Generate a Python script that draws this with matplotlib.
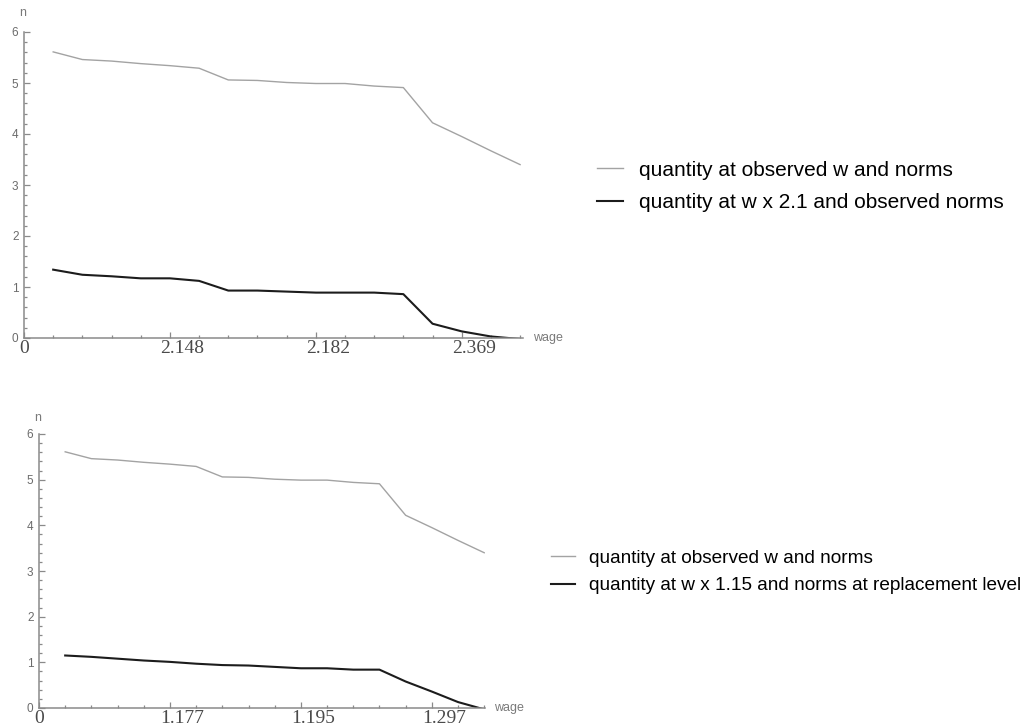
"""Quantity vs wage, two Mathematica-style panels (matplotlib / Agg)."""
import numpy as np
import matplotlib
matplotlib.use("Agg")
import matplotlib.pyplot as plt
from matplotlib.lines import Line2D
from matplotlib.transforms import ScaledTranslation

plt.rcParams.update({"font.family": ["Liberation Sans", "DejaVu Sans"]})

# data: 17 wage steps, index 1..17
idx = np.arange(1, 18)
q_observed = [5.61, 5.46, 5.43, 5.38, 5.34, 5.29, 5.06, 5.05, 5.01, 4.99,
              4.99, 4.94, 4.91, 4.22, 3.95, 3.67, 3.40]
q_w21 = [1.34, 1.24, 1.21, 1.17, 1.17, 1.12, 0.93, 0.93, 0.91, 0.89,
         0.89, 0.89, 0.86, 0.28, 0.13, 0.03, -0.02]
q_w115 = [1.15, 1.12, 1.08, 1.04, 1.01, 0.97, 0.94, 0.93, 0.90, 0.87,
          0.87, 0.84, 0.84, 0.58, 0.36, 0.13, -0.03]

tick_pos = [0, 5, 10, 15]
top_ticklabels = ["0", "2.148", "2.182", "2.369"]
bot_ticklabels = ["0", "1.177", "1.195", "1.297"]

top_labels = ["quantity at observed w and norms",
              "quantity at w x 2.1 and observed norms"]
bot_labels = ["quantity at observed w and norms",
              "quantity at w x 1.15 and norms at replacement level"]

GRAY, DARK, AX = "#a3a3a3", "#1c1c1c", "#8a8a8a"
W, H = 1025, 728

fig = plt.figure(figsize=(W / 100, H / 100), dpi=100)


def _px(l, b, r, t):
    return (l / W, 1 - b / H, (r - l) / W, (b - t) / H)


def _panel(rect, xmax, second, ticklabels, labels, leg_x, leg_y, leg_fs,
           leg_sp, dx_px, n_up):
    ax = fig.add_axes(_px(*rect))
    ax.plot(idx, q_observed, color=GRAY, lw=1.0)
    ax.plot(idx, second, color=DARK, lw=1.5)
    ax.set_xlim(0, xmax)
    ax.set_ylim(0, 6)
    for s in ("top", "right"):
        ax.spines[s].set_visible(False)
    for s in ("left", "bottom"):
        ax.spines[s].set_color(AX)
        ax.spines[s].set_linewidth(1.1)
    ax.set_yticks(range(7))
    ax.set_yticks(np.arange(0, 6.01, 0.2), minor=True)
    ax.set_xticks(tick_pos, ticklabels)
    ax.set_xticks(idx, minor=True)
    ax.tick_params(which="both", direction="in", color=AX, width=0.9)
    ax.tick_params(which="major", length=4)
    ax.tick_params(which="minor", length=2)
    ax.tick_params(axis="y", labelsize=8.5, labelcolor="#6b6b6b", pad=4)
    ax.tick_params(axis="x", labelsize=14, labelcolor="#4a4a4a", pad=1.5)
    for lab in ax.get_xticklabels():
        lab.set_fontfamily("Liberation Serif")
    off = ScaledTranslation(dx_px / 100, 0, fig.dpi_scale_trans)
    for lab in ax.get_xticklabels()[1:]:
        lab.set_transform(lab.get_transform() + off)
    ax.annotate("n", (0, 1), xycoords="axes fraction", xytext=(-1, n_up),
                textcoords="offset points", ha="center", va="bottom",
                fontsize=9, color="#7a7a7a")
    ax.text(1.02, 0, "wage", transform=ax.transAxes, ha="left",
            va="center", fontsize=9, color="#7a7a7a")

    handles = [Line2D([], [], color=GRAY, lw=1.0),
               Line2D([], [], color=DARK, lw=1.5)]
    fig.legend(handles, labels, loc="center left",
               bbox_to_anchor=(leg_x / W, 1 - leg_y / H), frameon=False,
               fontsize=leg_fs, handlelength=1.25, handletextpad=0.75,
               labelspacing=leg_sp, borderpad=0, borderaxespad=0)
    return ax


_panel((24, 338, 523, 32), 17.1, q_w21, top_ticklabels, top_labels,
       597, 186.5, 15, 0.66, 12, 9)
_panel((39, 708, 485, 434), 17.03, q_w115, bot_ticklabels, bot_labels,
       551, 572, 13.7, 0.51, 12, 7)

fig.savefig("out.png")
